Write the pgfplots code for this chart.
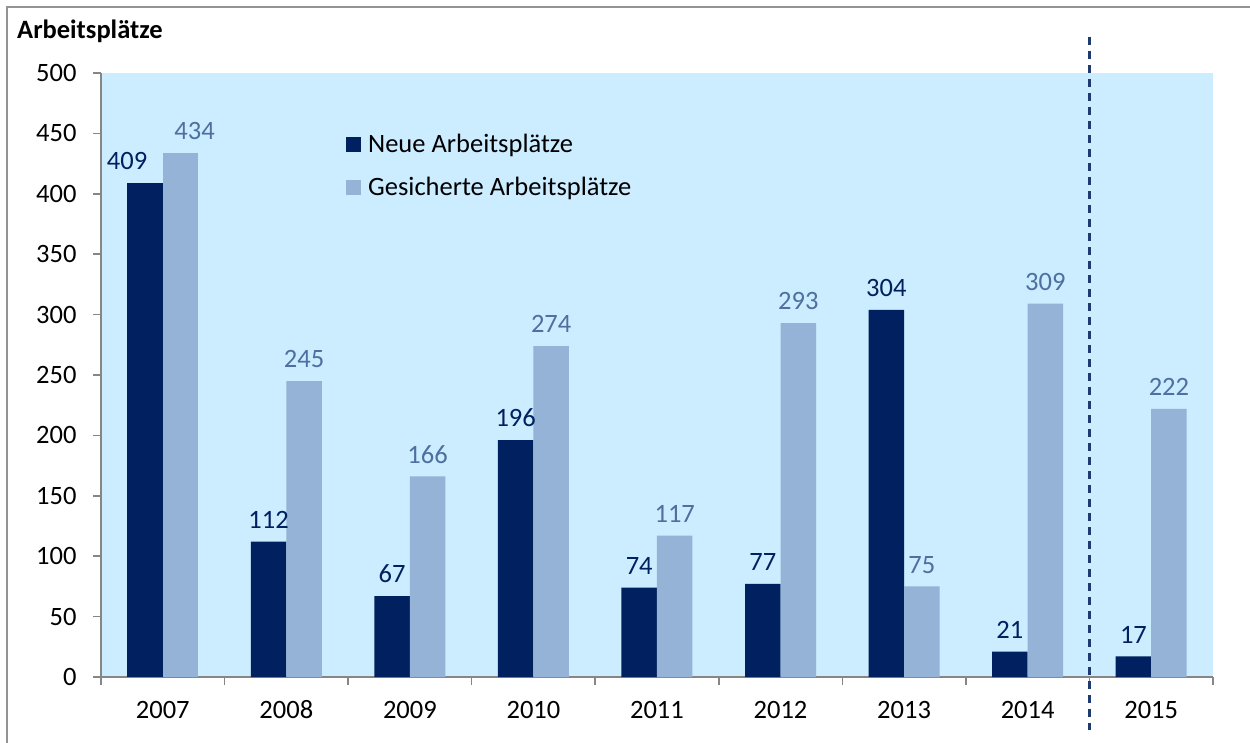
\documentclass[border=0pt]{standalone}
\usepackage{fontspec}
\setmainfont{Carlito}
\usepackage{pgfplots}
\usepackage{pgfplotstable}
\pgfplotsset{compat=1.18}
\definecolor{navy}{HTML}{002060}
\definecolor{lightbar}{HTML}{95B3D7}
\definecolor{bgblue}{HTML}{CCECFF}
\definecolor{lightlab}{HTML}{4E6FA0}
\definecolor{axisgray}{HTML}{868686}
\definecolor{dashcol}{HTML}{1F3A70}

\pgfplotstableread{
x y
1 112
2 67
3 196
4 74
5 77
6 304
7 21
8 17
}\neue
\pgfplotstableread{
x y
1 245
2 166
3 274
4 117
5 293
6 75
7 309
8 222
}\gesichert

\begin{document}
\begin{tikzpicture}
\useasboundingbox (0pt,0pt) rectangle (1250pt,742pt);
\draw[line width=2pt, color=gray!85] (7pt,-10pt) -- (7pt,735pt) -- (1260pt,735pt);
\node[anchor=base west, font=\fontsize{26.5}{32}\selectfont\bfseries, inner sep=0pt] at (17pt,703pt) {Arbeitsplätze};
\begin{axis}[
  at={(101pt,65pt)}, anchor=south west,
  scale only axis, width=1112pt, height=604pt,
  xmin=-0.5, xmax=8.5, ymin=0, ymax=500,
  clip=false,
  axis lines=left,
  axis line style={draw=axisgray, line width=1.5pt, -},
  axis background/.style={fill=bgblue},
  /pgf/number format/assume math mode=true,
  font=\fontsize{26.5}{32}\selectfont,
  tick label style={font=\fontsize{26.5}{32}\selectfont},
  ytick={0,50,...,500},
  xtick={0,...,8},
  xticklabels={2007,2008,2009,2010,2011,2012,2013,2014,2015},
  minor xtick={-0.5,0.5,...,8.5},
  tick align=outside,
  major tick length=8pt,
  minor tick length=8pt,
  tick style={draw=axisgray, line width=1.5pt},
  major x tick style={draw=none},
  yticklabel style={xshift=-13pt},
  xticklabel style={anchor=base, yshift=-33pt},
  ybar, bar width=35.5pt,
  nodes near coords,
  every node near coord/.append style={inner sep=0pt, yshift=13pt, font=\fontsize{26.5}{32}\selectfont},
  legend image code/.code={\fill[#1] (0pt,-7.5pt) rectangle (15pt,7.5pt);},
  legend style={at={(rel axis cs:0.2203,0.899)}, anchor=north west, draw=none, fill=none,
    inner sep=0pt, row sep=23pt, font=\fontsize{26.5}{32}\selectfont,
    nodes={inner sep=0pt, outer sep=0pt}, column sep=7pt},
  legend cell align=left,
]
\addplot[fill=navy, draw=none, bar shift=-17.75pt,
  every node near coord/.append style={text=navy}]
  table[x=x,y=y]{\neue};
\addplot[fill=lightbar, draw=none, bar shift=17.75pt,
  every node near coord/.append style={text=lightlab}]
  table[x=x,y=y]{\gesichert};
\addplot[fill=navy, draw=none, bar shift=-17.75pt, forget plot,
  every node near coord/.append style={text=navy, xshift=-18pt}]
  coordinates {(0,409)};
\addplot[fill=lightbar, draw=none, bar shift=17.75pt, forget plot,
  every node near coord/.append style={text=lightlab, xshift=14pt}]
  coordinates {(0,434)};
\legend{Neue Arbeitsplätze, Gesicherte Arbeitsplätze}
\draw[dashcol, line width=2.5pt, dash pattern=on 8pt off 6pt] (axis cs:7.5,530) -- (axis cs:7.5,-44);
\end{axis}
\end{tikzpicture}
\end{document}
